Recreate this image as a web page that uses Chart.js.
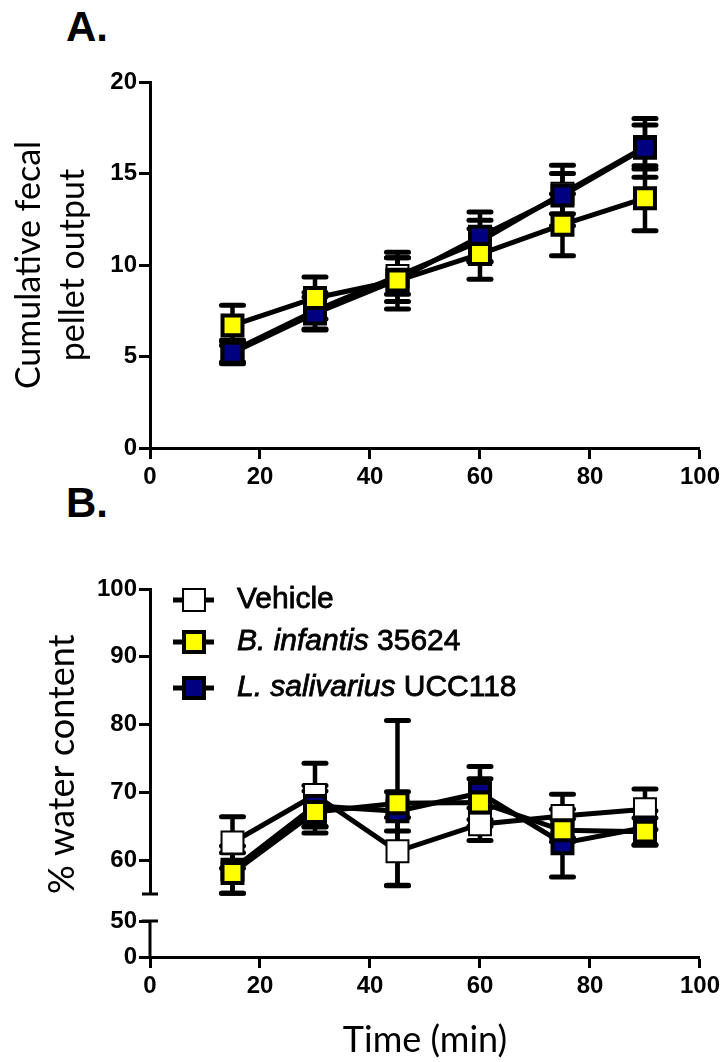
<!DOCTYPE html>
<html>
<head>
<meta charset="utf-8">
<script src="https://cdn.jsdelivr.net/npm/chart.js@4.4.1/dist/chart.umd.min.js"></script>
<style>
  body { margin: 0; background: #fff; width: 724px; height: 1062px; position: relative; overflow: hidden; }
  canvas { position: absolute; left: 0; }
  .panel { position: absolute; left: 66px; font: bold 42px "Liberation Sans", Arial, sans-serif; line-height: 42px; color: #000; }
</style>
</head>
<body>
<div class="panel" style="top:6px">A.</div>
<div class="panel" style="top:482px">B.</div>
<canvas id="chartA" width="724" height="520" style="top:0"></canvas>
<canvas id="chartB" width="724" height="542" style="top:520px"></canvas>
<script>
// time points (min)
const time = [15, 30, 45, 60, 75, 90];
const xTicks = [0, 20, 40, 60, 80, 100];
const pelletTicks = [0, 5, 10, 15, 20];
const waterTicks = [60, 70, 80, 90, 100];
const waterLowTicks = [0, 50];

// legend / series names (italic part + plain part)
const seriesItalic = ['', 'B. infantis', 'L. salivarius'];
const seriesPlain = ['Vehicle', ' 35624', ' UCC118'];
const seriesFill = ['#ffffff', '#ffff00', '#000080'];

// A. cumulative fecal pellet output (mean, sem)
const pelletVehicle = [5.3, 7.5, 9.4, 11.3, 13.9, 16.45];
const pelletVehicleSem = [0.6, 1.0, 1.0, 1.15, 1.1, 1.2];
const pelletInfantis = [6.7, 8.2, 9.15, 10.6, 12.2, 13.65];
const pelletInfantisSem = [1.1, 1.15, 1.55, 1.38, 1.7, 1.78];
const pelletSalivarius = [5.2, 7.35, 9.2, 11.55, 13.8, 16.4];
const pelletSalivariusSem = [0.6, 0.9, 1.2, 1.35, 1.65, 1.6];

// B. % water content (mean, sem)
const waterVehicle = [62.6, 69.6, 61.3, 65.3, 66.5, 67.5];
const waterVehicleSem = [3.8, 4.7, 5.0, 2.4, 3.2, 3.0];
const waterInfantis = [58.1, 67.1, 68.4, 68.5, 64.4, 64.2];
const waterInfantisSem = [3.0, 3.1, 12.2, 3.5, 1.7, 2.0];
const waterSalivarius = [58.6, 68.0, 67.2, 69.9, 62.5, 64.8];
const waterSalivariusSem = [3.5, 3.0, 2.9, 3.9, 5.0, 2.5];

const tickFont = { family: 'Liberation Sans', weight: 'bold', size: 24 };
const titleFont = { family: 'Lato', size: 34, lineHeight: '44px' };

function makeSets(values, sems) {
  return values.map((v, i) => ({
    label: seriesItalic[i] + seriesPlain[i],
    data: time.map((t, k) => ({ x: t, y: v[k] })),
    sem: sems[i],
    yAxisID: 'y',
    borderColor: '#000',
    borderWidth: 5,
    pointStyle: 'rect',
    pointRadius: i === 0 ? 15.5 : 14.1,
    pointBorderWidth: i === 0 ? 2 : 4,
    pointBackgroundColor: seriesFill[i],
    pointBorderColor: '#000',
    order: [2, 0, 1][i], // yellow on top, vehicle at the back
    clip: false
  }));
}

function axisStyle() {
  return {
    grid: { display: true, drawOnChartArea: false, drawTicks: true, tickLength: 11, tickWidth: 3, color: '#000' },
    border: { display: true, color: '#000', width: 3 }
  };
}

function xAxis(height, title) {
  return Object.assign(axisStyle(), {
    type: 'linear', position: 'bottom', min: 0, max: 100,
    afterBuildTicks: s => { s.ticks = xTicks.map(v => ({ value: v })); },
    afterFit: s => { s.height = height; },
    ticks: { font: tickFont, color: '#000', padding: 4, maxRotation: 0 },
    title: { display: !!title, text: title || '', font: { family: 'Lato', size: 36, lineHeight: '44px' }, color: '#000', padding: { top: 0, bottom: 0 } }
  });
}

// error bars, drawn under the lines and markers
const errorBars = {
  id: 'errorBars',
  beforeDatasetsDraw(chart) {
    const ctx = chart.ctx, xs = chart.scales.x, ys = chart.scales.y;
    ctx.save();
    ctx.strokeStyle = '#000';
    chart.data.datasets.forEach(ds => {
      ds.data.forEach((p, k) => {
        const x = xs.getPixelForValue(p.x);
        const top = ys.getPixelForValue(p.y + ds.sem[k]);
        const bot = ys.getPixelForValue(p.y - ds.sem[k]);
        ctx.lineWidth = 4.5; ctx.lineCap = 'butt';
        ctx.beginPath(); ctx.moveTo(x, top); ctx.lineTo(x, bot); ctx.stroke();
        ctx.lineWidth = 5; ctx.lineCap = 'round';
        [top, bot].forEach(yy => {
          ctx.beginPath(); ctx.moveTo(x - 11, yy); ctx.lineTo(x + 11, yy); ctx.stroke();
        });
      });
    });
    ctx.restore();
  }
};

// broken y axis and legend for panel B
const panelBExtras = {
  id: 'panelBExtras',
  afterDraw(chart) {
    const ctx = chart.ctx, up = chart.scales.y, low = chart.scales.yLow;
    const ax = chart.chartArea.left;
    ctx.save();
    ctx.strokeStyle = '#000';
    ctx.lineWidth = 3;
    const seg = (x1, y1, x2, y2) => { ctx.beginPath(); ctx.moveTo(x1, y1); ctx.lineTo(x2, y2); ctx.stroke(); };
    const yTop = low.getPixelForValue(waterLowTicks[waterLowTicks.length - 1]);
    seg(ax, low.getPixelForValue(0), ax, yTop);
    seg(ax - 8, yTop, ax + 8, yTop);
    const yEnd = up.getPixelForValue(up.min);
    seg(ax - 8, yEnd, ax + 8, yEnd);

    // legend
    const rows = [80, 122, 168];
    [0, 1, 2].forEach(i => {
      const ds = chart.data.datasets[i];
      const y = rows[i];
      ctx.strokeStyle = '#000';
      ctx.lineWidth = 5; ctx.lineCap = 'butt';
      seg(173, y, 214, y);
      const half = ds.pointRadius * Math.SQRT1_2;
      ctx.fillStyle = ds.pointBackgroundColor;
      ctx.lineWidth = ds.pointBorderWidth;
      ctx.beginPath(); ctx.rect(194 - half, y - half, 2 * half, 2 * half);
      ctx.fill(); ctx.stroke();
      ctx.fillStyle = '#000';
      ctx.lineWidth = 0.8;
      ctx.textBaseline = 'middle'; ctx.textAlign = 'left';
      let tx = 237;
      if (seriesItalic[i]) {
        ctx.font = 'italic 30px "Liberation Sans"';
        ctx.fillText(seriesItalic[i], tx, y);
        ctx.strokeText(seriesItalic[i], tx, y);
        tx += ctx.measureText(seriesItalic[i]).width;
      }
      ctx.font = '30px "Liberation Sans"';
      ctx.fillText(seriesPlain[i], tx, y);
      ctx.strokeText(seriesPlain[i], tx, y);
    });
    ctx.restore();
  }
};

new Chart(document.getElementById('chartA'), {
  type: 'line',
  data: { datasets: makeSets([pelletVehicle, pelletInfantis, pelletSalivarius],
                             [pelletVehicleSem, pelletInfantisSem, pelletSalivariusSem]) },
  options: {
    responsive: false,
    animation: false,
    layout: { padding: { top: 82, right: 24, left: 0, bottom: 0 } },
    plugins: { legend: { display: false }, tooltip: { enabled: false } },
    scales: {
      x: xAxis(72),
      y: Object.assign(axisStyle(), {
        type: 'linear', position: 'left', min: 0, max: 20,
        afterBuildTicks: s => { s.ticks = pelletTicks.map(v => ({ value: v })); },
        afterFit: s => { s.width = 150; },
        ticks: { font: tickFont, color: '#000', padding: 2 },
        title: { display: true, text: ['Cumulative fecal', 'pellet output'], font: titleFont, color: '#000', padding: { top: 7, bottom: 0 } }
      })
    }
  },
  plugins: [errorBars]
});

new Chart(document.getElementById('chartB'), {
  type: 'line',
  data: { datasets: makeSets([waterVehicle, waterInfantis, waterSalivarius],
                             [waterVehicleSem, waterInfantisSem, waterSalivariusSem]) },
  options: {
    responsive: false,
    animation: false,
    layout: { padding: { top: 69, right: 24, left: 0, bottom: 0 } },
    plugins: { legend: { display: false }, tooltip: { enabled: false } },
    scales: {
      x: xAxis(105, 'Time (min)'),
      yLow: Object.assign(axisStyle(), {
        type: 'linear', position: 'left', min: 0, max: 87.5,
        stack: 'water', stackWeight: 63,
        border: { display: false },
        afterBuildTicks: s => { s.ticks = waterLowTicks.map(v => ({ value: v })); },
        afterFit: s => { s.width = 150; },
        ticks: { font: tickFont, color: '#000', padding: 2 }
      }),
      y: Object.assign(axisStyle(), {
        type: 'linear', position: 'left', min: 55, max: 100,
        stack: 'water', stackWeight: 305,
        afterBuildTicks: s => { s.ticks = waterTicks.map(v => ({ value: v })); },
        afterFit: s => { s.width = 150; },
        ticks: { font: tickFont, color: '#000', padding: 2 },
        title: { display: true, text: '% water content', align: 'start', font: { family: 'Lato', size: 36, lineHeight: '44px' }, color: '#000', padding: { top: 40, bottom: 0 } }
      })
    }
  },
  plugins: [errorBars, panelBExtras]
});
</script>
</body>
</html>
